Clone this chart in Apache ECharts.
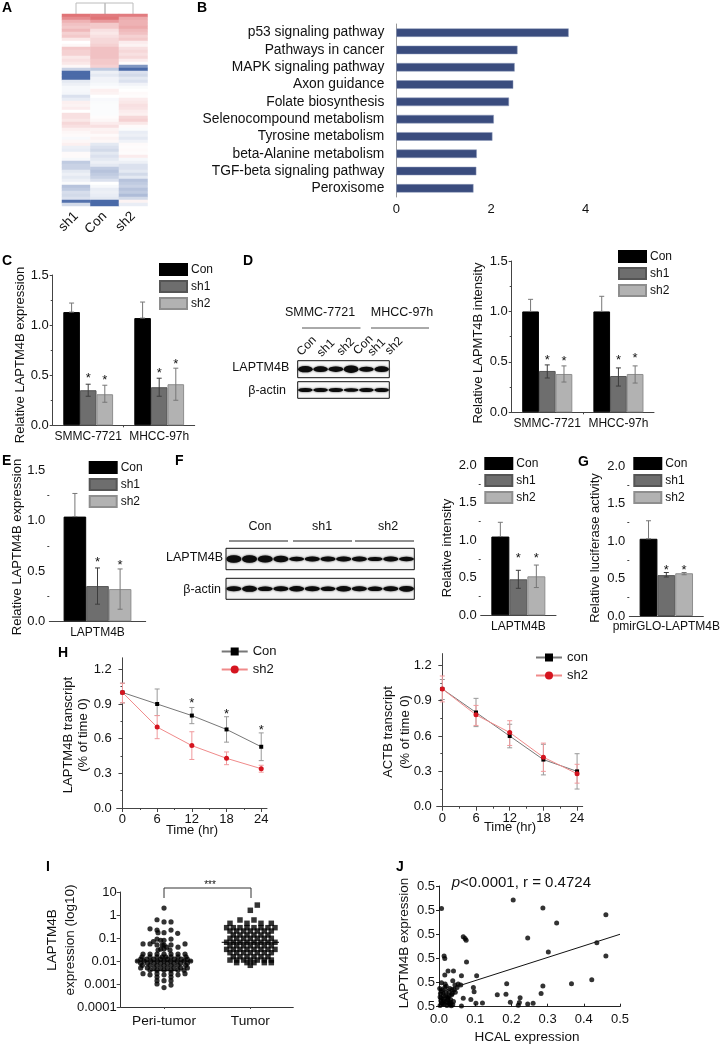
<!DOCTYPE html>
<html><head><meta charset="utf-8"><style>html,body{margin:0;padding:0;background:#fff}#c{width:723px;height:1047px}</style>
<script src="https://cdn.jsdelivr.net/npm/echarts@6/dist/echarts.min.js"></script></head><body><div id="c"></div>
<script>
// ---------- DATA ----------
const heatColumns=['sh1','Con','sh2'];
const heatSh1=[.9,.75,.5,.4,.35,.45,.3,.35,.15,0,.05,.35,.3,.3,.15,.2,.15,.05,-.3,-1,-1,-1,-.15,-.1,-.05,-.05,-.06,-.2,-.12,.1,.08,.12,0,.2,.2,.15,.25,.2,.1,.05,.03,-.04,.05,.1,-.1,-.12,.03,.03,-.05,-.35,-.3,-.3,-.15,-.1,-.15,-.1,-.03,-.4,-.35,-.22,-.25,-.2,-.95,-.25];
const heatCon=[.85,.9,.65,.35,.35,.2,.15,.2,.25,.25,.3,.4,.4,.4,.4,.35,.35,.3,-.35,-.1,-.15,-.08,-.08,-.05,-.02,.1,.08,0,-.04,-.03,-.02,-.02,-.02,-.02,.02,.05,.12,.2,.08,.1,.03,.08,.05,-.15,-.2,-.25,-.15,-.2,-.15,-.1,-.15,-.35,-.4,-.35,-.3,-.2,0,-.05,-.12,-.1,-.12,-.15,-1,-1];
const heatSh2=[.85,.55,.5,.5,.55,.45,.4,.3,.35,.12,.08,.2,.25,.2,.25,.12,.02,-.7,-1,-.2,-.25,-.15,-.2,-.08,-.03,0,.03,.02,.12,.15,.2,.18,.12,.1,.25,.3,.15,.03,-.03,-.12,-.1,-.15,-.08,.03,.02,.03,.02,.12,-.05,-.1,-.2,-.2,-.15,-.25,-.15,-.4,-.35,-.3,-.4,-.35,-.45,-.25,.08,-.12];

const pathways=['p53 signaling pathway','Pathways in cancer','MAPK signaling pathway','Axon guidance','Folate biosynthesis','Selenocompound metabolism','Tyrosine metabolism','beta-Alanine metabolism','TGF-beta signaling pathway','Peroxisome'];
const pathwayValues=[3.64,2.56,2.5,2.47,2.38,2.06,2.03,1.7,1.69,1.63];

const cellLines=['SMMC-7721','MHCC-97h'];
const cCon=[1.13,1.07],cSh1=[.35,.38],cSh2=[.31,.41];
const cErr=[[[1.13,1.22],[1.07,1.23]],[[.29,.41],[.29,.47]],[[.23,.40],[.25,.57]]];
const cStars=[[.5,.545],[.475,.64]];
const dCon=[1,1],dSh1=[.41,.36],dSh2=[.38,.38];
const dErr=[[[1,1.12],[1,1.15]],[[.34,.47],[.26,.44]],[[.30,.46],[.29,.46]]];
const dStars=[[.545,.54],[.53,.565]];
const eCon=[1.04],eSh1=[.35],eSh2=[.32];
const eErr=[[[1.04,1.27]],[[.17,.53]],[[.12,.52]]];
const eStars=[[.61],[.58]];
const fCon=[1.05],fSh1=[.48],fSh2=[.52];
const fErr=[[[1.05,1.24]],[[.36,.60]],[[.37,.67]]];
const fStars=[[.8],[.8]];
const gCon=[1.03],gSh1=[.545],gSh2=[.57];
const gErr=[[[1.03,1.27]],[[.52,.58]],[[.55,.58]]];
const gStars=[[.645],[.645]];

const timeHours=[0,6,12,18,24];
const hConMean=[1,.9,.8,.68,.53];
const hConErr=[[.91,1.08],[.8,1.03],[.73,.87],[.57,.79],[.41,.65]];
const hShMean=[1,.7,.54,.43,.34];
const hShErr=[[.91,1.08],[.6,.8],[.42,.66],[.375,.485],[.31,.37]];
const hStarPts=[[12,.93],[18,.84],[24,.70]];
const actConMean=[1,.8,.6,.4,.3];
const actConErr=[[.91,1.08],[.68,.92],[.5,.7],[.27,.53],[.15,.45]];
const actShMean=[1,.78,.63,.42,.28];
const actShErr=[[.89,1.11],[.69,.86],[.52,.73],[.3,.54],[.2,.36]];

const iTickLabels=['0.0001','0.001','0.01','0.1','1','10'];
const iGroups=['Peri-tumor','Tumor'];
const periRows=[[2,[0]],[.62,[-21]],[.5,[0,21]],[.25,[-42]],[.22,[-21,21]],[.17,[0,-18]],[.16,[41]],[.09,[-21,21]],[.08,[0,-10]],[.07,[-32]],[.055,[-63,-42,63]],[.05,[-21,21,0,-5]],[.04,[42,8]],[.033,[0,-10]],[.03,[-18,18]],[.02,[-63,-42,-21,0,21,42,63]],[.015,[-66,-42,-21,-5,5,21,42,66]],[.012,[-52,-31,-10,10,31,52,70,-70]],[.01,[-80,-60,-40,-20,0,20,40,60,80]],[.008,[-70,-50,-30,-10,10,30,50,70]],[.0065,[-65,-42,-21,0,21,42,65]],[.005,[-70,-50,-30,-10,10,30,50,70]],[.004,[-42,-21,0,21,42,60]],[.0028,[-63,-21,21,63]],[.0025,[-42,0,42]],[.002,[-21,21]],[.0014,[-21,0,21]],[.001,[-21]],[.0009,[21]],[.0007,[0]]];
const tumorRows=[[2.7,[21]],[1.6,[0]],[.607,[-31,11]],[.435,[-61,-10,32,63]],[.281,[-71,-51,-31,-10,11,32,53,74]],[.201,[-61,-41,-20,0,21,42,63]],[.135,[-51,-31,-10,11,32,53]],[.097,[-61,-41,-20,0,21,42,63]],[.065,[-71,-51,-31,-10,11,32,53,74]],[.046,[-61,-41,-20,0,21,42,63]],[.032,[-71,-51,-31,-10,11,32,53,74]],[.023,[-61,-41,-20,0,21,42,63]],[.0154,[-51,-31,-10,11,32,53]],[.011,[-61,-41,-20,0,21,42,63]],[.0085,[-41,-10,11,42,63]],[.0065,[0]]];
const periCentre=130,tumorCentre=389;
const periMedian=[[-84,.01],[85,.01]],periLower=[[-42,.0038],[41,.0038]];
const tumorMedian=[[-86,.065],[86,.065]];

const jTickLabels=['0.5','0.5','0.5','0.5','0.5','0.5'];
const jXTicks=['0.0','0.1','0.2','0.3','0.4','0.5'];
const jX=[.007,.205,.287,.461,.325,.067,.072,.075,.245,.436,.302,.461,.014,.016,.076,.025,.04,.016,.062,.104,.038,.007,.017,.053,.044,.06,.095,.097,.187,.287,.366,.422,.282,.185,.161,.224,.088,.067,.102,.12,.197,.222,.219,.245,.26,.062,
 .002,.004,.006,.008,.01,.012,.015,.018,.02,.022,.025,.028,.03,.032,.035,.038,.04,.003,.005,.009,.012,.016,.019,.023,.027,.03,.034,.037,.042,.045,.05,.003,.006,.01,.014,.02,.024,.028,.032,.036,.03];
const jY=[4.07,4.42,4.09,3.81,3.47,2.9,2.83,2.75,2.85,2.65,2.27,2.1,2.1,2,1.85,1.48,1.48,1.31,1.28,1.28,1.08,.99,.94,.94,.9,.9,.8,.62,.95,.86,.95,1.12,.55,.52,.5,.37,.3,.35,.14,.15,.18,.17,.06,.11,.14,.03,
 .75,.55,.35,.15,.6,.3,.1,.45,.2,.05,.35,.6,.12,.3,.5,.08,.22,.05,.25,.7,.45,.8,.6,.4,.15,.75,.04,.55,.7,.6,.8,.4,.65,.12,.25,.85,.28,.45,.18,.7,.08];
const jFitX=[0,.5],jFitY=[.6,3.0];

const dBlotTop=[.8,.7,.65,1,.6,.7],dBlotBottom=[.45,.4,.4,.35,.45,.45];
const fBlotTop=[1,1,.95,.85,.5,.55,.55,.6,.55,.45,.55,.5],fBlotBottom=[.6,.75,.5,.6,.65,.6,.5,.65,.6,.5,.6,.7];

// ---------- BUILD ----------
const FF='"Liberation Sans",Arial,sans-serif',AX='#444';
const grid=[],xAxis=[],yAxis=[],series=[],legend=[],graphic=[];
const lbl=(s,x,y,o={})=>graphic.push({type:'text',x,y,rotation:o.rot||0,silent:true,style:Object.assign({text:s,fontFamily:FF,fontSize:13,fill:'#111',align:'center',verticalAlign:'middle'},o.style||{})});
const vlbl=(s,x,y,o={})=>lbl(s,x,y,{rot:Math.PI/2,style:o});
const seg=(pts,c,w)=>graphic.push({type:'polyline',silent:true,shape:{points:pts},style:{stroke:c||'#444',lineWidth:w||1,fill:null}});
const addGrid=(l,t,w,h,extra)=>{grid.push(Object.assign({left:l,top:t,width:w,height:h,containLabel:false},extra||{}));return grid.length-1;};
const line={lineStyle:{color:AX,width:1}};

function errSeries(g,xi,yi,rows,offsets,col,stars){
  series.push({type:'custom',name:'err'+series.length,xAxisIndex:xi,yAxisIndex:yi,z:6,silent:true,clip:false,
    encode:{x:0,y:[1,2]},data:rows,
    renderItem(p,api){
      const x=api.value(0),lo=api.coord([x,api.value(1)]),hi=api.coord([x,api.value(2)]),off=offsets;
      const X=lo[0]+off,cap=2.5;
      return {type:'group',children:[
        {type:'line',shape:{x1:X,y1:lo[1],x2:X,y2:hi[1]},style:{stroke:col,lineWidth:1}},
        {type:'line',shape:{x1:X-cap,y1:hi[1],x2:X+cap,y2:hi[1]},style:{stroke:col,lineWidth:1}},
        {type:'line',shape:{x1:X-cap,y1:lo[1],x2:X+cap,y2:lo[1]},style:{stroke:col,lineWidth:1}}]};
    }});
}
function starSeries(xi,yi,rows,off){
  series.push({type:'custom',name:'star'+series.length,xAxisIndex:xi,yAxisIndex:yi,z:7,silent:true,clip:false,encode:{x:0,y:1},data:rows,
    renderItem(p,api){const c=api.coord([api.value(0),api.value(1)]);
      return {type:'text',style:{text:'*',x:c[0]+off,y:c[1]+3,fontSize:13,fontFamily:FF,fill:'#111',align:'center',verticalAlign:'middle'}};}});
}
function barPanel(c){
  const g=addGrid(c.l,c.t,c.w,c.h);
  xAxis.push({type:'category',gridIndex:g,data:c.cats,axisLine:line,axisTick:{alignWithLabel:true,length:3,lineStyle:{color:AX}},axisLabel:{fontFamily:FF,fontSize:12,color:'#111',margin:5,interval:0}});
  const xi=xAxis.length-1;
  if(c.cats.length>1){xAxis.push({type:'value',gridIndex:g,min:0,max:c.cats.length,position:'bottom',axisLine:{show:false},axisLabel:{show:false},splitLine:{show:false},axisTick:{length:2,lineStyle:{color:AX},customValues:[1]}});}
  yAxis.push({type:'value',gridIndex:g,min:0,max:c.max,interval:.5,axisLine:line,axisTick:{length:3,lineStyle:{color:AX}},minorTick:{show:true,splitNumber:2,length:2,lineStyle:{color:AX}},splitLine:{show:false},axisLabel:{fontFamily:FF,fontSize:13,color:'#111',margin:4,formatter:v=>v.toFixed(1)}});
  const yi=yAxis.length-1;
  const st=[{name:'Con',d:c.con,color:'#000',b:'#000'},{name:'sh1',d:c.sh1,color:'#6e6e6e',b:'#555'},{name:'sh2',d:c.sh2,color:'#b2b2b2',b:'#8e8e8e'}];
  st.forEach((s,i)=>series.push({type:'bar',name:s.name,xAxisIndex:xi,yAxisIndex:yi,data:s.d,barWidth:c.bw,barGap:0,itemStyle:{color:s.color,borderColor:s.b,borderWidth:1},silent:true,z:3}));
  c.err.forEach((rows,i)=>errSeries(g,xi,yi,rows.map((r,k)=>[k,r[0],r[1]]),(i-1)*c.bw,i==1?'#3d3d3d':'#777'));
  c.stars.forEach((rows,i)=>starSeries(xi,yi,rows.map((v,k)=>[k,v]),i*c.bw));
  legend.push({show:true,left:c.lg[0],top:c.lg[1],orient:'vertical',itemWidth:27,itemHeight:11,itemGap:4,padding:0,selectedMode:false,icon:'rect',data:['Con','sh1','sh2'],textStyle:{fontFamily:FF,fontSize:12,color:'#111',padding:[0,0,0,-1]}});
}
function linePanel(c){
  const g=addGrid(c.l,c.t,c.w,c.h);
  xAxis.push({type:'value',gridIndex:g,min:-1,max:25,axisLine:line,splitLine:{show:false},axisTick:{length:4,lineStyle:{color:AX},customValues:timeHours},axisLabel:{customValues:timeHours,fontFamily:FF,fontSize:13,color:'#111',margin:5}});
  const xi=xAxis.length-1;
  xAxis.push({type:'value',gridIndex:g,min:-1,max:25,position:'bottom',axisLine:{show:false},axisLabel:{show:false},splitLine:{show:false},axisTick:{length:2,lineStyle:{color:AX},customValues:[3,9,15,21]}});
  const yt=[0,.3,.6,.9,1.2];
  yAxis.push({type:'value',gridIndex:g,min:0,max:1.3,axisLine:line,splitLine:{show:false},axisTick:{length:4,lineStyle:{color:AX},customValues:yt},axisLabel:{customValues:yt,fontFamily:FF,fontSize:13,color:'#111',margin:5,formatter:v=>v.toFixed(1)}});
  const yi=yAxis.length-1;
  yAxis.push({type:'value',gridIndex:g,min:0,max:1.3,position:'left',axisLine:{show:false},axisLabel:{show:false},splitLine:{show:false},axisTick:{length:2,lineStyle:{color:AX},customValues:[.15,.45,.75,1.05]}});
  errSeries(g,xi,yi,timeHours.map((t,k)=>[t,c.aErr[k][0],c.aErr[k][1]]),0,'#999');
  errSeries(g,xi,yi,timeHours.map((t,k)=>[t,c.bErr[k][0],c.bErr[k][1]]),0,'#f0999c');
  series.push({type:'line',name:c.names[0],xAxisIndex:xi,yAxisIndex:yi,data:timeHours.map((t,k)=>[t,c.a[k]]),symbol:'rect',symbolSize:4,showSymbol:true,lineStyle:{color:'#777',width:1},itemStyle:{color:'#000'},silent:true,z:8});
  series.push({type:'line',name:c.names[1],xAxisIndex:xi,yAxisIndex:yi,data:timeHours.map((t,k)=>[t,c.b[k]]),symbol:'circle',symbolSize:5,showSymbol:true,lineStyle:{color:'#f08a8a',width:1},itemStyle:{color:'#d5141f'},silent:true,z:9});
  if(c.stars)starSeries(xi,yi,c.stars,0);
  legend.push({show:true,left:c.lg[0],top:c.lg[1],orient:'vertical',itemWidth:26,itemHeight:10,itemGap:5,padding:0,selectedMode:false,data:c.names,formatter:n=>n.split('|')[0],textStyle:{fontFamily:FF,fontSize:13,color:'#111',padding:[0,0,0,0]}});
}
function blot(l,t,w,h,vals,scale,bg){
  const g=addGrid(l,t,w,h,{show:true,borderColor:'#111',borderWidth:1,backgroundColor:bg});
  xAxis.push({type:'value',gridIndex:g,min:0,max:vals.length,show:false});
  yAxis.push({type:'value',gridIndex:g,min:0,max:1,show:false});
  const bw=w/vals.length;
  series.push({type:'scatter',name:'blot'+g,xAxisIndex:xAxis.length-1,yAxisIndex:yAxis.length-1,silent:true,symbol:'circle',
    data:vals.map((v,i)=>[i+.5,.5,v]),symbolSize:d=>[bw*.96,1.5+d[2]*scale],itemStyle:{color:'#0c0c0c',shadowBlur:2,shadowColor:'#333',opacity:1}});
}

// A heatmap
{const g=addGrid(62,14,85.5,192);
 const rows=heatSh1.map((_,i)=>heatSh1.length-1-i);
 xAxis.push({type:'category',gridIndex:g,data:heatColumns,axisLine:{show:false},axisTick:{show:false},axisLabel:{rotate:45,fontFamily:FF,fontSize:13.5,color:'#111',margin:8,interval:0}});
 yAxis.push({type:'category',gridIndex:g,data:rows,show:false});
 const data=[];[heatSh1,heatCon,heatSh2].forEach((col,x)=>col.forEach((v,i)=>data.push([x,i,v])));
 series.push({type:'heatmap',name:'heat',xAxisIndex:xAxis.length-1,yAxisIndex:yAxis.length-1,data:data.map(d=>[d[0],heatSh1.length-1-d[1],d[2]]),silent:true,progressive:0});
}
const vm={show:false,type:'continuous',seriesIndex:0,dimension:2,min:-1,max:1,inRange:{color:['#4a6aa8','#ffffff','#dc6468']}};
seg([[76,14],[76,3],[105,3],[105,14]],'#bcbcbc');seg([[105,14],[105,3],[133,3],[133,14]],'#bcbcbc');

// B
{const g=addGrid(396.3,24,189.4,173);
 xAxis.push({type:'value',gridIndex:g,min:0,max:4,interval:2,axisLine:{lineStyle:{color:'#999'}},axisTick:{length:3,lineStyle:{color:'#888'}},splitLine:{show:false},axisLabel:{fontFamily:FF,fontSize:13,color:'#111',margin:6}});
 yAxis.push({type:'category',gridIndex:g,inverse:true,data:pathways,axisLine:{lineStyle:{color:'#999'}},axisTick:{length:3,lineStyle:{color:'#888'}},axisLabel:{fontFamily:FF,fontSize:13.8,color:'#111',margin:12,interval:0}});
 series.push({type:'bar',name:'B',xAxisIndex:xAxis.length-1,yAxisIndex:yAxis.length-1,data:pathwayValues,barWidth:8.5,silent:true,itemStyle:{color:'#3a4c7e',borderColor:'#8f9abb',borderWidth:.5}});
}
barPanel({l:52.7,t:275,w:142,h:150.3,cats:cellLines,max:1.5,bw:16.6,con:cCon,sh1:cSh1,sh2:cSh2,err:cErr,stars:cStars,lg:[159,263]});
barPanel({l:511.7,t:261,w:142.3,h:151.3,cats:cellLines,max:1.5,bw:16.7,con:dCon,sh1:dSh1,sh2:dSh2,err:dErr,stars:dStars,lg:[618,250]});
barPanel({l:49.3,t:470.3,w:96.4,h:151,cats:['LAPTM4B'],max:1.5,bw:22.6,con:eCon,sh1:eSh1,sh2:eSh2,err:eErr,stars:eStars,lg:[88.7,461]});
barPanel({l:480.7,t:465.3,w:75.3,h:150,cats:['LAPTM4B'],max:2,bw:18,con:fCon,sh1:fSh1,sh2:fSh2,err:fErr,stars:fStars,lg:[484.3,457]});
barPanel({l:629.3,t:466,w:76.4,h:150,cats:['pmirGLO-LAPTM4B'],max:2,bw:17.8,con:gCon,sh1:gSh1,sh2:gSh2,err:gErr,stars:gStars,lg:[633.3,457]});
blot(297.7,360.7,91.6,17,dBlotTop,6,'#f7f7f7');
blot(297.7,381.7,91.6,16.6,dBlotBottom,6,'#f7f7f7');
blot(226,548.3,188.3,21.4,fBlotTop,6,'#f2f2f2');
blot(226,578.3,188.3,21,fBlotBottom,6,'#f2f2f2');
linePanel({l:116.7,t:657.8,w:150.3,h:150.2,a:hConMean,aErr:hConErr,b:hShMean,bErr:hShErr,names:['Con|H','sh2|H'],stars:hStarPts,lg:[220.7,645]});
linePanel({l:436.7,t:653.6,w:146,h:153.1,a:actConMean,aErr:actConErr,b:actShMean,bErr:actShErr,names:['con','sh2|A'],lg:[535,651]});

// I
{const g=addGrid(120.7,892,172.6,115);
 xAxis.push({type:'value',gridIndex:g,min:0,max:518,axisLine:{lineStyle:{color:'#333'}},splitLine:{show:false},axisTick:{length:2,lineStyle:{color:AX},customValues:[periCentre,tumorCentre]},
   axisLabel:{customValues:[periCentre,tumorCentre],formatter:v=>v===periCentre?iGroups[0]:iGroups[1],fontFamily:FF,fontSize:13.7,color:'#111',margin:7}});
 yAxis.push({type:'log',logBase:10,gridIndex:g,min:.0001,max:10,axisLine:{lineStyle:{color:'#333'}},axisTick:{length:4,lineStyle:{color:AX}},splitLine:{show:false},minorTick:{show:false},
   axisLabel:{fontFamily:FF,fontSize:13,color:'#111',margin:4,formatter:v=>iTickLabels[Math.round(Math.log10(v))+4]}});
 const xi=xAxis.length-1,yi=yAxis.length-1;
 const pts=(rows,c)=>rows.flatMap(r=>r[1].map(o=>[c+o,r[0]]));
 series.push({type:'scatter',name:'Peri',xAxisIndex:xi,yAxisIndex:yi,data:pts(periRows,periCentre),symbol:'circle',symbolSize:5.2,itemStyle:{color:'#000'},silent:true});
 series.push({type:'scatter',name:'Tumor',xAxisIndex:xi,yAxisIndex:yi,data:pts(tumorRows,tumorCentre),symbol:'rect',symbolSize:5.5,itemStyle:{color:'#000'},silent:true});
 [[periMedian,periCentre],[periLower,periCentre],[tumorMedian,tumorCentre]].forEach((m,i)=>series.push({type:'line',name:'m'+i,xAxisIndex:xi,yAxisIndex:yi,data:m[0].map(p=>[m[1]+p[0],p[1]]),symbol:'none',lineStyle:{color:'#000',width:1},silent:true,z:4}));
}
// J
{const g=addGrid(439,886,181,120.7);
 xAxis.push({type:'value',gridIndex:g,min:0,max:.5,interval:.1,axisLine:{lineStyle:{color:'#222'}},axisTick:{inside:true,length:3,lineStyle:{color:'#222'}},splitLine:{show:false},axisLabel:{fontFamily:FF,fontSize:13,color:'#111',margin:6,formatter:(v,i)=>jXTicks[i]}});
 yAxis.push({type:'value',gridIndex:g,min:0,max:5,interval:1,axisLine:{lineStyle:{color:'#222'}},axisTick:{length:3,lineStyle:{color:'#222'}},splitLine:{show:false},axisLabel:{fontFamily:FF,fontSize:13,color:'#111',margin:4,formatter:(v,i)=>jTickLabels[i]}});
 const xi=xAxis.length-1,yi=yAxis.length-1;
 series.push({type:'scatter',name:'J',xAxisIndex:xi,yAxisIndex:yi,data:jX.map((x,i)=>[x,jY[i]]),symbol:'circle',symbolSize:5,itemStyle:{color:'#000'},silent:true,clip:false});
 series.push({type:'line',name:'fit',xAxisIndex:xi,yAxisIndex:yi,data:jFitX.map((x,i)=>[x,jFitY[i]]),symbol:'none',lineStyle:{color:'#111',width:1},silent:true});
}
// text annotations
[['A',2,8],['B',197,8],['C',2,261],['D',243,261],['E',2,461],['F',175,461],['G',578,462],['H',58,653],['I',46,867],['J',396,867]].forEach(a=>lbl(a[0],a[1],a[2],{style:{fontWeight:'bold',fontSize:14,align:'left',fill:'#000'}}));
vlbl('Relative LAPTM4B expression',20,355,{fontSize:13});
vlbl('Relative LAPMT4B intensity',478,343,{fontSize:13});
vlbl('Relative LAPTM4B expression',17,547,{fontSize:13});
vlbl('Relative intensity',447,548,{fontSize:13});
vlbl('Relative luciferase activity',595,548,{fontSize:13});
vlbl('LAPTM4B transcript',68,735,{fontSize:13});vlbl('(% of time 0)',83,735,{fontSize:13});
vlbl('ACTB transcript',388,732,{fontSize:13});vlbl('(% of time 0)',405,732,{fontSize:13});
vlbl('LAPTM4B',52,940,{fontSize:13.5});vlbl('expression (log10)',70,940,{fontSize:13.5});
vlbl('LAPTM4B expression',404,943,{fontSize:13.5});
lbl('Time (hr)',192,830);lbl('Time (hr)',510,827);
lbl('HCAL expression',527,1037,{style:{fontSize:13.5}});
lbl('SMMC-7721',320,313,{style:{fontSize:12.5}});lbl('MHCC-97h',402,313,{style:{fontSize:12.5}});
seg([[302,328],[360.5,328]],'#555');seg([[371,328],[429,328]],'#555');
[['Con',306.7,346],['sh1',326,348],['sh2',345.7,346.7],['Con',363.3,345],['sh1',376.7,347.3],['sh2',394,346]].forEach(a=>lbl(a[0],a[1],a[2],{rot:Math.PI/4,style:{fontSize:12}}));
lbl('LAPTM4B',289.3,368,{style:{align:'right',fontSize:12.5}});lbl('β-actin',286,390.7,{style:{align:'right',fontSize:12.5}});
lbl('LAPTM4B',223,558,{style:{align:'right',fontSize:12.5}});lbl('β-actin',221,590,{style:{align:'right',fontSize:12.5}});
lbl('Con',260,527,{style:{fontSize:12.5}});lbl('sh1',322,527,{style:{fontSize:12.5}});lbl('sh2',388,527,{style:{fontSize:12.5}});
seg([[229,541],[288,541]],'#222');seg([[293,541],[352,541]],'#222');seg([[355,541],[414,541]],'#222');
graphic.push({type:'polyline',silent:true,shape:{points:[[164,898],[164,888],[251,888],[251,898]]},style:{stroke:'#333',lineWidth:1,fill:null}});
lbl('***',210,885,{style:{fontSize:10}});
graphic.push({type:'text',x:451.7,y:883,silent:true,style:{text:'{i|p}<0.0001, r = 0.4724',fontFamily:FF,fontSize:15,fill:'#111',verticalAlign:'middle',rich:{i:{fontStyle:'italic',fontFamily:FF,fontSize:15,fill:'#111'}}}});

const chart=echarts.init(document.getElementById('c'),null,{renderer:'canvas',width:723,height:1047});
chart.setOption({animation:false,backgroundColor:'#fff',textStyle:{fontFamily:FF},visualMap:vm,grid,xAxis,yAxis,series,legend,graphic:{elements:graphic}});
</script></body></html>
